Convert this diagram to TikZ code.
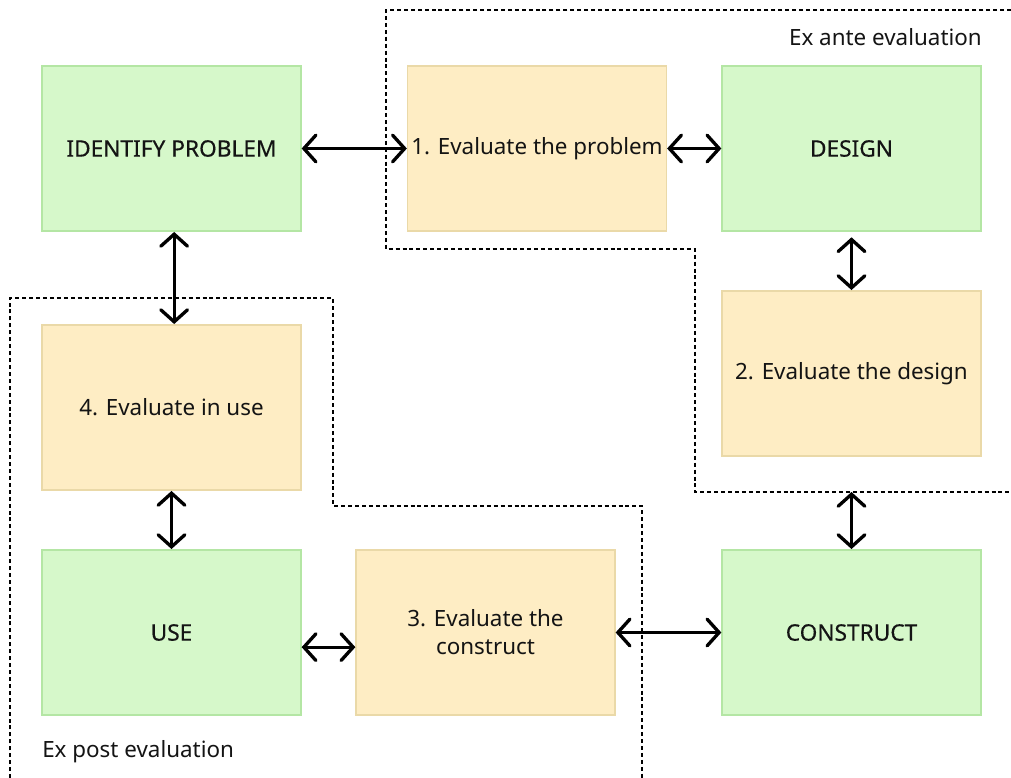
\documentclass[tikz,border=0pt]{standalone}
\usepackage{fontspec}
\setmainfont{Noto Sans}
\newfontfamily\stagefont[FakeBold=0.35]{Noto Sans}
\usepackage{xcolor}
\usetikzlibrary{arrows.meta, positioning}

\definecolor{stageFill}{HTML}{D6F8CA}
\definecolor{stageLine}{HTML}{B4E6A4}
\definecolor{evalFill}{HTML}{FEEDC4}
\definecolor{evalLine}{HTML}{EAD9A8}
\definecolor{inkText}{HTML}{141414}

\tikzset{
  stage/.style={draw=stageLine, fill=stageFill, line width=1.2pt, minimum width=194pt,
    minimum height=124pt, inner sep=0pt, font=\stagefont\fontsize{17}{21}\selectfont, text=inkText, align=center},
  evalbox/.style={stage, draw=evalLine, fill=evalFill, font=\fontsize{16.8}{21}\selectfont},
  link/.style={{Straight Barb[length=9pt,width=20pt,line cap=round]}-{Straight Barb[length=9pt,width=20pt,line cap=round]},
    line width=2.5pt, line cap=round},
  region/.style={line width=1.1pt, dash pattern=on 3pt off 2.2pt},
  regionlabel/.style={font=\fontsize{16.8}{21}\selectfont, text=inkText, inner sep=0pt}
}

\begin{document}
\begin{tikzpicture}[x=0.75pt, y=-0.75pt]
  \useasboundingbox (0,0) rectangle (1011,778);

  % Evaluation regions
  \draw[region] (1011,10) -- (386,10) -- (386,249) -- (695,249) -- (695,492) -- (1011,492);
  \draw[region] (10,778) -- (10,298) -- (333,298) -- (333,506) -- (642,506) -- (642,778);
  \node[regionlabel, anchor=east] (antelbl) at (982,37) {Ex ante evaluation};
  \node[regionlabel, anchor=west] (postlbl) at (42,752) {Ex post evaluation};

  % Activities
  \node[stage] (identify) at (171.5,148.5) {IDENTIFY PROBLEM};
  \node[stage] (design) at (851.5,148.5) {DESIGN};
  \node[stage] (use) at (171.5,632.5) {USE};
  \node[stage] (construct) at (851.5,632.5) {CONSTRUCT};

  % Evaluation steps
  \node[evalbox] (evalprob) at (537,148.5) {1. Evaluate the problem};
  \node[evalbox] (evaldes) at (851.5,373.5) {2. Evaluate the design};
  \node[evalbox] (evalcons) at (485.5,632.5) {3. Evaluate the\\construct};
  \node[evalbox] (evaluse) at (171.5,407.5) {4. Evaluate in use};

  % Links
  \coordinate (antegap) at (851.5,492);
  \draw[link] (identify.east) -- (evalprob.west);
  \draw[link] (evalprob.east) -- (design.west);
  \draw[link] ([yshift=-4pt]design.south) -- (evaldes.north);
  \draw[link] (antegap) -- (construct.north);
  \draw[link] (evalcons.east) -- (construct.west);
  \draw[link] ([yshift=-11pt]use.east) -- ([yshift=-11pt]evalcons.west);
  \draw[link] (evaluse.south) -- (use.north);
  \draw[link] ([xshift=2pt]identify.south) -- ([xshift=2pt]evaluse.north);
\end{tikzpicture}
\end{document}
